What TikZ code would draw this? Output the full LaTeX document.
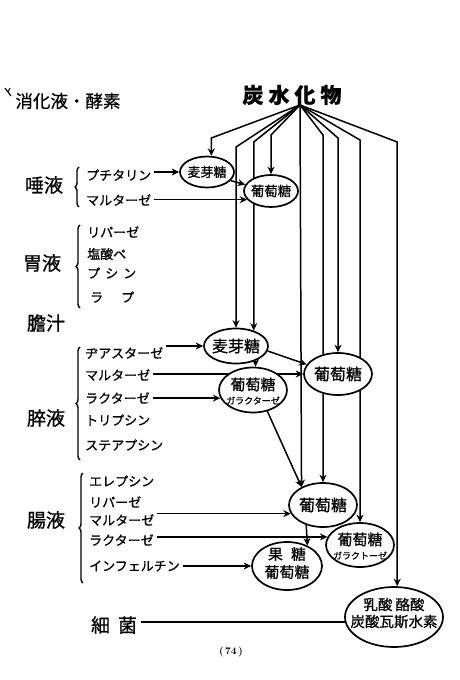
\documentclass[tikz,border=0pt]{standalone}
\usepackage{fontspec}
\newfontfamily\jp[FakeBold=0.7]{Noto Sans CJK JP}
\usetikzlibrary{arrows.meta,shapes.geometric,decorations.pathreplacing}
\pgfdeclarelayer{bg}
\pgfsetlayers{bg,main}
\begin{document}
\begin{tikzpicture}[x=1pt,y=-1pt,
  ell/.style={ellipse, draw, line width=1.7pt, fill=white, inner sep=0pt},
  etx/.style={font=\jp\fontsize{15}{17}\selectfont, align=center, inner sep=0pt},
  arr/.style={line width=1.5pt, -{Stealth[length=7.5pt,width=7pt]}},
  ln/.style={line width=1.5pt},
  item/.style={anchor=west, inner sep=3pt, font=\jp\fontsize{13}{14}\selectfont},
  lab/.style={font=\jp\fontsize{19}{19}\selectfont},
  brc/.style={decorate, decoration={brace, amplitude=4pt}, line width=1.4pt}]
\useasboundingbox (0,0) rectangle (460,680);

% titles
\node[font=\jp\fontsize{17.5}{18}\selectfont] (title) at (68,101) {消化液・酵素};
\draw[line width=1.1pt] (5,88) -- (8,92) -- (10,88) (8,92) -- (11,96);
\node[font=\jp\bfseries\fontsize{21}{21}\selectfont] (CH) at (292,95) {炭\hspace{5pt}水\hspace{5pt}化\hspace{5pt}物};
\coordinate (apex) at (300,105);

% group labels
\node[lab] (Lsal) at (44,185) {唾液};
\node[lab] (Lgas) at (42,263) {胃液};
\node[lab] (Lbil) at (46,323) {膽汁};
\node[lab] (Lpan) at (46,418) {脺液};
\node[lab] (Lint) at (46,520) {腸液};
\node[lab] (Lbac) at (114,625) {細\hspace{8pt}菌};

% items
\node[item] (sPt) at (83,175) {プチタリン};
\node[item] (sMa1) at (83,200) {マルターゼ};
\node[item] (gLi) at (84,232) {リパーゼ};
\node[item] (gHc) at (84,254) {塩酸ペ};
\node[item] (gPs) at (84,273) {プ\hspace{5pt}シ\hspace{5pt}ン};
\node[item] (gRa) at (87,297) {ラ\hspace{18pt}プ};
\node[item] (pDi) at (82,353) {ヂアスターゼ};
\node[item] (pMa) at (82,375) {マルターゼ};
\node[item] (pLa) at (82,398) {ラクターゼ};
\node[item] (pTr) at (82,420) {トリプシン};
\node[item] (pSt) at (82,445) {ステアプシン};
\node[item] (iEr) at (86,481) {エレプシン};
\node[item] (iLi) at (86,502) {リパーゼ};
\node[item] (iMa) at (86,520) {マルターゼ};
\node[item] (iLa) at (86,540) {ラクターゼ};
\node[item] (iIn) at (86,566) {インフェルチン};

% braces
\draw[brc] (79,207) -- (79,167);
\draw[brc] (80,308) -- (80,225);
\draw[brc] (80,460) -- (80,347);
\draw[brc] (83,583) -- (83,473);

% ellipses
\node[ell, minimum width=54pt, minimum height=31pt] (M1) at (207,172) {};
\node[ell, minimum width=54pt, minimum height=32pt] (G1) at (271,191) {};
\node[ell, minimum width=64pt, minimum height=35pt] (M2) at (236,346) {};
\node[ell, minimum width=68pt, minimum height=42pt] (G2) at (338,374) {};
\node[ell, minimum width=68pt, minimum height=45pt] (GL) at (253,390) {};
\node[ell, minimum width=68pt, minimum height=44pt] (G3) at (323,505) {};
\node[ell, minimum width=68pt, minimum height=44pt] (GT) at (360,545) {};
\node[ell, minimum width=70pt, minimum height=48pt] (FG) at (287,566) {};
\node[ell, minimum width=98pt, minimum height=60pt] (LA) at (394,617) {};

\node[etx, font=\jp\fontsize{13}{15}\selectfont] (M1t) at (M1) {麦芽糖};
\node[etx, font=\jp\fontsize{13.5}{15}\selectfont] (G1t) at (G1) {葡萄糖};
\node[etx, font=\jp\fontsize{16}{17}\selectfont] (M2t) at (M2) {麦芽糖};
\node[etx, font=\jp\fontsize{16}{17}\selectfont] (G2t) at (G2) {葡萄糖};
\node[etx] (GLt) at (253,391) {葡萄糖\\[-3pt]{\fontsize{9}{10}\selectfont ガラクターゼ}};
\node[etx, font=\jp\fontsize{16}{17}\selectfont] (G3t) at (G3) {葡萄糖};
\node[etx] (GTt) at (360,546) {葡萄糖\\[-3pt]{\fontsize{9}{10}\selectfont ガラクトーゼ}};
\node[etx] (FGt) at (287,563) {果\hspace{8pt}糖\\[1pt]葡萄糖};
\node[etx, font=\jp\fontsize{14.5}{16}\selectfont] (LAt) at (394,613) {乳酸\hspace{3pt}酪酸\\[1pt]炭酸瓦斯水素};

\node[font=\bfseries\fontsize{10}{10}\selectfont] (pg) at (231,652) {(\,74\,)};

\begin{pgfonlayer}{bg}
\fill[white] (0,0) rectangle (460,680);
% fan from 炭水化物
\draw[arr] (apex) -- (M1.75 |- 0,138) -- (M1.75);
\draw[arr] (apex) -- (M2.north |- 0,147) -- (M2.north);
\draw[arr] (apex) -- (M2.41 |- 0,142) -- (M2.41);
\draw[arr] (apex) -- (G1.north |- 0,135) -- (G1.north);
\draw[arr] (apex) -- (G3.140);
\draw[arr] (apex) -- (G3.north |- 0,135) -- (G3.north);
\draw[arr] (apex) -- (G2.north |- 0,138) -- (G2.north);
\draw[arr] (apex) -- (GT.north |- 0,140) -- (GT.north);
\draw[arr] (apex) -- (LA.84 |- 0,142) -- (LA.84);
% enzymes
\draw[arr] (sPt.east |- M1.west) -- (M1.west);
\draw[arr] (sMa1.east |- G1.200) -- (G1.200);
\draw[arr] (M1.-20) -- (G1.166);
\draw[arr] (pDi.east |- M2.west) -- (M2.west);
\draw[arr] (pMa.east |- G2.west) -- (G2.west);
\draw[arr] (pLa.east |- GL.194) -- (GL.194);
\draw[arr] (M2.-9) -- (G2.163);
\draw[arr] (M2.-37) -- (M2.-37 |- GL.north);
\draw[arr] (GL.-56) -- (G3.140);
\draw[arr] (iMa.east |- G3.195) -- (G3.195);
\draw[arr] (iLa.east |- GT.166) -- (GT.166);
\draw[arr] (iIn.east |- FG.west) -- (FG.west);
\draw[arr] (G3.230) -- (FG.45);
\draw[ln] (Lbac.east |- LA.186) -- (LA.186);
\end{pgfonlayer}
\end{tikzpicture}
\end{document}
